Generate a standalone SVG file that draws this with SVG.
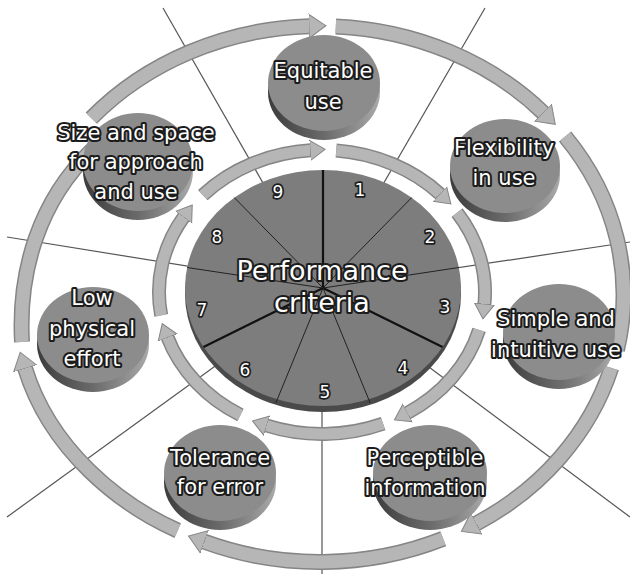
<svg xmlns="http://www.w3.org/2000/svg" width="630" height="574" viewBox="0 0 630 574">
<style>
.guide{stroke:#555;stroke-width:1.2;fill:none}
.bandBack{fill:none;stroke:#858585;stroke-width:16;stroke-linecap:butt}
.bandO{fill:none;stroke:#b6b6b6;stroke-width:13;stroke-linecap:butt;marker-end:url(#ahO)}
.noHead{marker-end:none}
.bandBackI{fill:none;stroke:#858585;stroke-width:14;stroke-linecap:butt}
.bandI{fill:none;stroke:#b6b6b6;stroke-width:11;stroke-linecap:butt;marker-end:url(#ahI)}
.side{fill:url(#sideG)}
.face{fill:#8c8c8c}
.lbl{font-family:"DejaVu Sans","Liberation Sans",sans-serif;font-size:21px;fill:#fff;stroke:#1c1c1c;stroke-width:4.2;stroke-linejoin:round;paint-order:stroke;text-anchor:middle}
.big{font-size:27px}
.num{font-size:17px;stroke-width:3.5}
.spoke{stroke:#222;stroke-width:1}
.spokeB{stroke:#111;stroke-width:2.2}
</style>
<defs>
<linearGradient id="sideG" x1="0" y1="0" x2="1" y2="0">
<stop offset="0" stop-color="#3c3c3c"/>
<stop offset="0.5" stop-color="#6a6a6a"/>
<stop offset="1" stop-color="#a9a9a9"/>
</linearGradient>
<marker id="ahO" markerUnits="userSpaceOnUse" markerWidth="18" markerHeight="26" refX="0.5" refY="13" orient="auto" viewBox="0 0 18 26">
<path d="M0,1 L17,13 L0,25 Z" fill="#b6b6b6" stroke="#858585" stroke-width="1"/>
</marker>
<marker id="ahI" markerUnits="userSpaceOnUse" markerWidth="16" markerHeight="22" refX="0.5" refY="11" orient="auto" viewBox="0 0 16 22">
<path d="M0,1 L15,11 L0,21 Z" fill="#b6b6b6" stroke="#858585" stroke-width="1"/>
</marker>
</defs>
<rect width="630" height="574" fill="#fff"/>

<g id="guides">
<line class="guide" x1="323" y1="288" x2="163" y2="8"/>
<line class="guide" x1="323" y1="288" x2="485" y2="8"/>
<line class="guide" x1="323" y1="288" x2="7" y2="237"/>
<line class="guide" x1="323" y1="288" x2="630" y2="242"/>
<line class="guide" x1="323" y1="288" x2="7" y2="517"/>
<line class="guide" x1="323" y1="288" x2="630" y2="517"/>
<line class="guide" x1="322" y1="288" x2="322" y2="574"/>
</g>

<g id="connectors">
<path class="bandBack" d="M91.3,118.2 A303,268 0 0 1 309.4,26.2"/>
<path class="bandO" d="M91.3,118.2 A303,268 0 0 1 309.4,26.2"/>
<path class="bandBack" d="M335.8,26.4 A303,268 0 0 1 543.4,112.9"/>
<path class="bandO" d="M335.8,26.4 A303,268 0 0 1 543.4,112.9"/>
<path class="bandBack" d="M565.1,136.5 A303,268 0 0 1 617,350"/>
<path class="bandO noHead" d="M565.1,136.5 A303,268 0 0 1 617,350"/>
<path class="bandBack" d="M611.3,367.9 A303,268 0 0 1 476.0,523.7"/>
<path class="bandO" d="M611.3,367.9 A303,268 0 0 1 476.0,523.7"/>
<path class="bandBack" d="M443.2,538.8 A303,268 0 0 1 204.0,541.6"/>
<path class="bandO" d="M443.2,538.8 A303,268 0 0 1 204.0,541.6"/>
<path class="bandBack" d="M177.7,530.6 C120,505 50,450 25,368"/>
<path class="bandO" d="M177.7,530.6 C120,505 50,450 25,368"/>
<path class="bandBack" d="M22,342 C18,270 40,200 92,150"/>
<path class="bandO noHead" d="M22,342 C18,270 40,200 92,150"/>

<path class="bandBackI" d="M202.8,195.2 A163,142 0 0 1 310.6,150.3"/>
<path class="bandI" d="M202.8,195.2 A163,142 0 0 1 310.6,150.3"/>
<path class="bandBackI" d="M336.2,150.5 A163,142 0 0 1 440.2,194.2"/>
<path class="bandI" d="M336.2,150.5 A163,142 0 0 1 440.2,194.2"/>
<path class="bandBackI" d="M457.1,212.6 A163,142 0 0 1 484.4,304.4"/>
<path class="bandI" d="M457.1,212.6 A163,142 0 0 1 484.4,304.4"/>
<path class="bandBackI" d="M479.1,329.9 A163,142 0 0 1 407.2,413.1"/>
<path class="bandI" d="M479.1,329.9 A163,142 0 0 1 407.2,413.1"/>
<path class="bandBackI" d="M383.1,423.7 A163,142 0 0 1 266.3,425.4"/>
<path class="bandI" d="M383.1,423.7 A163,142 0 0 1 266.3,425.4"/>
<path class="bandBackI" d="M240.5,415.0 A163,142 0 0 1 167.4,337.1"/>
<path class="bandI" d="M240.5,415.0 A163,142 0 0 1 167.4,337.1"/>
<path class="bandBackI" d="M161.2,315.4 A163,142 0 0 1 183.8,216.8"/>
<path class="bandI" d="M161.2,315.4 A163,142 0 0 1 183.8,216.8"/>
</g>

<g id="performance-criteria">
<ellipse cx="323" cy="294" rx="138" ry="118" fill="#4a4a4a"/>
<ellipse cx="323" cy="288" rx="138" ry="118" fill="#7d7d7d"/>
<line class="spokeB" x1="323" y1="288" x2="323" y2="170"/>
<line class="spoke" x1="323" y1="288" x2="411.7" y2="197.6"/>
<line class="spoke" x1="323" y1="288" x2="458.9" y2="267.5"/>
<line class="spokeB" x1="323" y1="288" x2="442.5" y2="347"/>
<line class="spoke" x1="323" y1="288" x2="370.2" y2="403"/>
<line class="spoke" x1="323" y1="288" x2="275.8" y2="403"/>
<line class="spokeB" x1="323" y1="288" x2="203.5" y2="347"/>
<line class="spoke" x1="323" y1="288" x2="187.1" y2="267.5"/>
<line class="spoke" x1="323" y1="288" x2="234.3" y2="197.6"/>
<text class="lbl num" x="360" y="196">1</text>
<text class="lbl num" x="430" y="243">2</text>
<text class="lbl num" x="445" y="313">3</text>
<text class="lbl num" x="403" y="374">4</text>
<text class="lbl num" x="325" y="398">5</text>
<text class="lbl num" x="245" y="376">6</text>
<text class="lbl num" x="202" y="316">7</text>
<text class="lbl num" x="217" y="243">8</text>
<text class="lbl num" x="278" y="198">9</text>
<text class="lbl big" x="322" y="280">Performance</text>
<text class="lbl big" x="322" y="312">criteria</text>
</g>

<g id="equitable-use">
<ellipse class="side" cx="324" cy="92" rx="56" ry="48"/>
<ellipse class="face" cx="324" cy="83" rx="56" ry="48"/>
<text class="lbl" x="323" y="78">Equitable</text>
<text class="lbl" x="323" y="109">use</text>
</g>

<g id="flexibility-in-use">
<ellipse class="side" cx="505" cy="175" rx="55" ry="47"/>
<ellipse class="face" cx="505" cy="166" rx="55" ry="47"/>
<text class="lbl" x="504" y="155">Flexibility</text>
<text class="lbl" x="504" y="185">in use</text>
</g>

<g id="simple-and-intuitive-use">
<ellipse class="side" cx="559" cy="341" rx="56" ry="48"/>
<ellipse class="face" cx="559" cy="332" rx="56" ry="48"/>
<text class="lbl" x="556" y="326">Simple and</text>
<text class="lbl" x="556" y="357">intuitive use</text>
</g>

<g id="perceptible-information">
<ellipse class="side" cx="430" cy="482" rx="57" ry="48"/>
<ellipse class="face" cx="430" cy="473" rx="57" ry="48"/>
<text class="lbl" x="425" y="465">Perceptible</text>
<text class="lbl" x="425" y="495">information</text>
</g>

<g id="tolerance-for-error">
<ellipse class="side" cx="220" cy="482" rx="56" ry="48"/>
<ellipse class="face" cx="220" cy="473" rx="56" ry="48"/>
<text class="lbl" x="220" y="465">Tolerance</text>
<text class="lbl" x="220" y="494">for error</text>
</g>

<g id="low-physical-effort">
<ellipse class="side" cx="93" cy="344" rx="56" ry="48"/>
<ellipse class="face" cx="93" cy="335" rx="56" ry="48"/>
<text class="lbl" x="92" y="305">Low</text>
<text class="lbl" x="92" y="336">physical</text>
<text class="lbl" x="92" y="366">effort</text>
</g>

<g id="size-and-space">
<ellipse class="side" cx="138" cy="171" rx="55" ry="49"/>
<ellipse class="face" cx="138" cy="162" rx="55" ry="49"/>
<text class="lbl" x="136" y="140">Size and space</text>
<text class="lbl" x="136" y="169">for approach</text>
<text class="lbl" x="136" y="199">and use</text>
</g>
</svg>
